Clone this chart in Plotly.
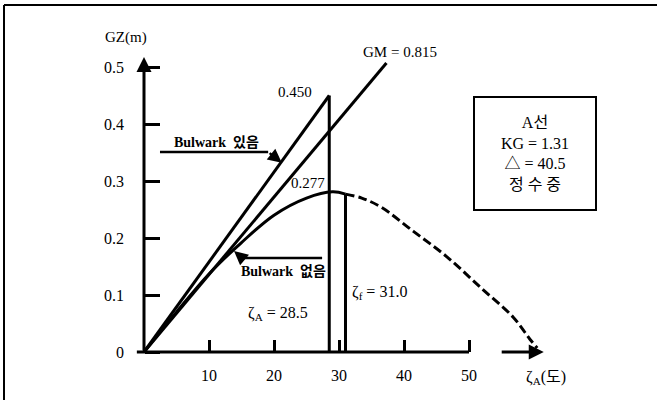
import plotly.graph_objects as go

# ---- data ----
x_ticks = [10, 20, 30, 40, 50]
x_tick_text = ["10", "20", "30", "40", "50"]
y_ticks = [0, 0.1, 0.2, 0.3, 0.4, 0.5]
y_tick_text = ["0", "0.1", "0.2", "0.3", "0.4", "0.5"]

zeta_A = 28.5
zeta_f = 31.0
gz_bulwark_max = 0.450
gz_at_zeta_f = 0.277

# with bulwark (straight line to 0.450 at zeta_A)
bw_deg = [0, zeta_A]
bw_gz = [0, gz_bulwark_max]

# GM = 0.815 initial slope line
gm_deg = [0, 37.3]
gm_gz = [0, 0.507]

# without bulwark, solid part up to zeta_f
nb_deg = [0, 5, 10, 15, 20, 25, 29, 31]
nb_gz = [0, 0.07, 0.137, 0.192, 0.24, 0.27, 0.281, 0.277]

# without bulwark, dashed extension beyond zeta_f
ext_deg = [31, 33.5, 36.5, 41.4, 46.6, 51.7, 56.8, 59.4, 60.5]
ext_gz = [0.277, 0.27, 0.254, 0.212, 0.167, 0.114, 0.061, 0.022, 0.007]

SERIF = "Liberation Serif, Times New Roman, Noto Sans CJK KR, serif"
LW = 3

fig = go.Figure()
fig.add_trace(go.Scatter(x=bw_deg, y=bw_gz, mode="lines",
                         line=dict(color="black", width=LW)))
fig.add_trace(go.Scatter(x=[zeta_A, zeta_A], y=[0, gz_bulwark_max], mode="lines",
                         line=dict(color="black", width=LW)))
fig.add_trace(go.Scatter(x=gm_deg, y=gm_gz, mode="lines",
                         line=dict(color="black", width=LW)))
fig.add_trace(go.Scatter(x=nb_deg, y=nb_gz, mode="lines",
                         line=dict(color="black", width=LW, shape="spline")))
fig.add_trace(go.Scatter(x=ext_deg, y=ext_gz, mode="lines",
                         line=dict(color="black", width=LW, shape="spline", dash="9px,4px")))
fig.add_trace(go.Scatter(x=[zeta_f, zeta_f], y=[0, gz_at_zeta_f], mode="lines",
                         line=dict(color="black", width=LW)))

# pixel mapping: px = 144 + 6.5*deg ; py = 352 - 570*gz (margins 0)
W, H = 657, 400
x_range = [-144 / 6.5, (W - 144) / 6.5]
y_range = [-(H - 352) / 570, 352 / 570]

fig.update_layout(
    width=W, height=H,
    margin=dict(l=0, r=0, t=0, b=0),
    paper_bgcolor="white", plot_bgcolor="white",
    showlegend=False,
    xaxis=dict(range=x_range, anchor="free", position=(H - 352) / H,
               showgrid=False, zeroline=False, showline=False,
               tickvals=x_ticks, ticktext=x_tick_text,
               ticks="inside", ticklen=12, tickwidth=3, tickcolor="black",
               ticklabelstandoff=12,
               tickfont=dict(family=SERIF, size=16, color="black")),
    yaxis=dict(range=y_range, anchor="free", position=144 / W,
               showgrid=False, zeroline=False, showline=False,
               tickvals=y_ticks, ticktext=y_tick_text,
               ticks="inside", ticklen=15, tickwidth=3, tickcolor="black",
               ticklabelstandoff=20,
               tickfont=dict(family=SERIF, size=16, color="black")),
)

shapes = []
# x axis line (to the 50 tick)
shapes.append(dict(type="line", xref="x", yref="y", x0=-1.1, y0=0, x1=50, y1=0,
                   line=dict(color="black", width=LW)))
# Bulwark arrows, horizontal parts
shapes.append(dict(type="line", xref="x", yref="y", x0=2.46, y0=0.351, x1=19.1, y1=0.351,
                   line=dict(color="black", width=2.5)))
shapes.append(dict(type="line", xref="x", yref="y", x0=15.1, y0=0.165, x1=27.4, y1=0.165,
                   line=dict(color="black", width=2.5)))
# frame of the picture (left and top edges)
shapes.append(dict(type="line", xref="paper", yref="paper", x0=4 / W, y0=-0.05, x1=4 / W, y1=1 - 5 / H,
                   line=dict(color="black", width=2)))
shapes.append(dict(type="line", xref="paper", yref="paper", x0=4 / W, y0=1 - 5 / H, x1=1.05, y1=1 - 5 / H,
                   line=dict(color="black", width=2)))
fig.update_layout(shapes=shapes)

ann = []


def arrow(x, y, ax, ay, width=LW, size=1.0):
    ann.append(dict(x=x, y=y, ax=ax, ay=ay, xref="x", yref="y", axref="x", ayref="y",
                    text="", showarrow=True, arrowhead=2, arrowsize=size,
                    arrowwidth=width, arrowcolor="black"))


# axis arrows
arrow(0, 0.5175, 0, 0)
arrow(61.5, 0, 54.8, 0)
# bulwark arrow tips
arrow(21.2, 0.332, 19.1, 0.351, width=2.5, size=1.1)
arrow(13.85, 0.177, 15.1, 0.165, width=2.5, size=1.1)


def label(x, y, text, size=15, bold=False):
    if bold:
        text = "<b>" + text + "</b>"
    ann.append(dict(x=x, y=y, xref="x", yref="y", text=text, showarrow=False,
                    xanchor="center", yanchor="middle",
                    font=dict(family=SERIF, size=size, color="black")))


label(-2.77, 0.551, "GZ(m)")
label(39.4, 0.526, "GM = 0.815")
label(23.2, 0.456, "0.450")
label(25.3, 0.2965, "0.277")
label(11.1, 0.3667, "Bulwark  있음", size=14, bold=True)
label(21.4, 0.1404, "Bulwark  없음", size=14, bold=True)
label(20.6, 0.0684, "ζ<sub>A</sub> = 28.5", size=16)
label(36.3, 0.105, "ζ<sub>f</sub> = 31.0", size=16)
label(61.8, -0.0456, "ζ<sub>A</sub>(도)", size=16)

ann.append(dict(x=60.15, y=0.349, xref="x", yref="y", showarrow=False,
                text="A선<br>KG = 1.31<br>△ = 40.5<br>정 수 중",
                align="center", width=112, height=103, borderpad=4,
                bordercolor="black", borderwidth=2, bgcolor="white",
                font=dict(family=SERIF, size=16, color="black")))

fig.update_layout(annotations=ann)
fig.write_html("out.html", config={"displayModeBar": False},
               post_script="document.body.style.margin='0px';")
